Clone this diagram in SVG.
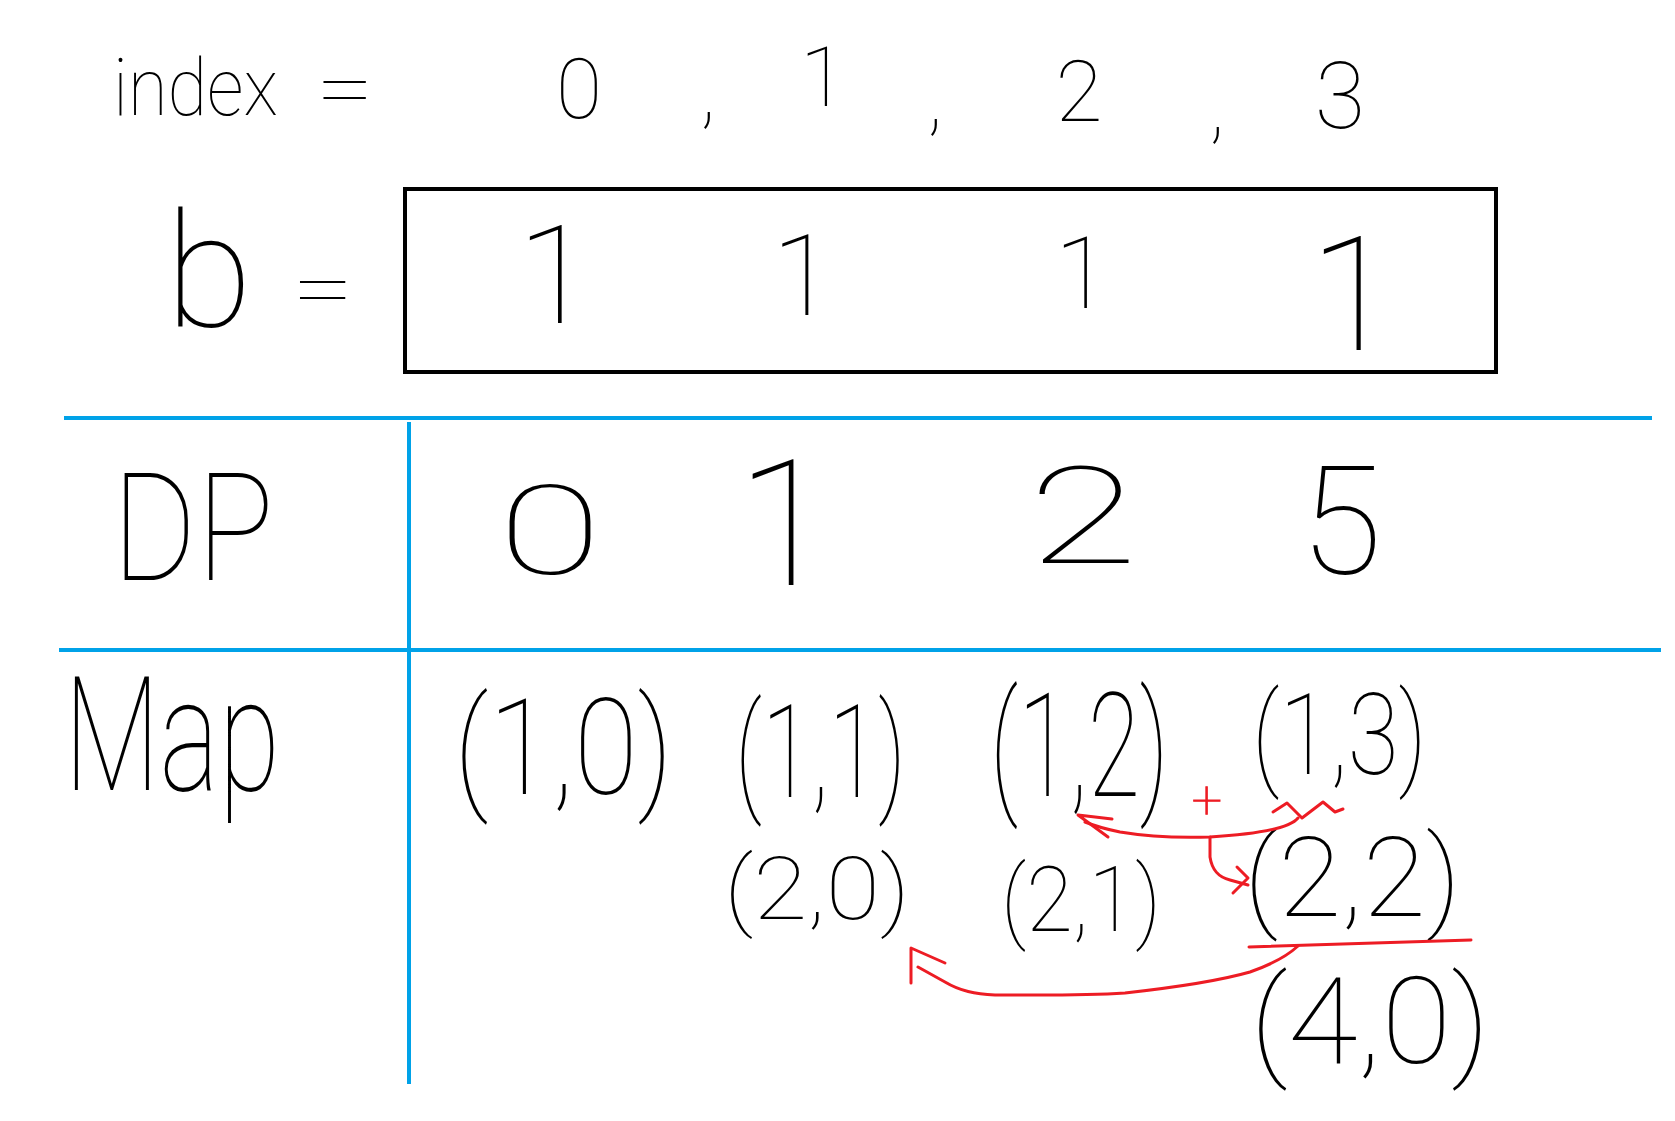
<svg xmlns="http://www.w3.org/2000/svg" width="1675" height="1121" viewBox="0 0 1675 1121">
<style>
.t{font-family:Roboto,"Liberation Sans",sans-serif;font-weight:100;fill:#000}
.m{text-anchor:middle}
.red{fill:none;stroke:#ed1c24;stroke-width:3;stroke-linecap:round;stroke-linejoin:round}
.blue{stroke:#00a2e8;stroke-width:4}
</style>
<rect width="1675" height="1121" fill="#fff"/>
<g id="index-row">
<text class="t" x="113" y="115" font-size="80" textLength="165" lengthAdjust="spacingAndGlyphs">index</text>
<text class="t" x="316" y="116" font-size="80" textLength="58" lengthAdjust="spacingAndGlyphs">=</text>
<text class="t m" x="579" y="118" font-size="84">0</text>
<text class="t m" x="708" y="118" font-size="84">,</text>
<text class="t m" x="823" y="106" font-size="84">1</text>
<text class="t m" x="935" y="125" font-size="84">,</text>
<text class="t m" x="1079" y="121" font-size="86">2</text>
<text class="t m" x="1340" y="128" font-size="92">3</text>
<text class="t m" x="1217" y="133" font-size="84">,</text>
</g>
<g id="b-row">
<text class="t" x="165" y="326" font-size="160">b</text>
<text class="t" x="292" y="316" font-size="80" textLength="62" lengthAdjust="spacingAndGlyphs">=</text>
<rect x="405" y="189" width="1091" height="183" fill="none" stroke="#000" stroke-width="4"/>
<text class="t m" x="555" y="323" font-size="138">1</text>
<text class="t m" x="803" y="315" font-size="113">1</text>
<text class="t m" x="1082" y="308" font-size="100">1</text>
<text class="t m" x="1353" y="350" font-size="160">1</text>
</g>
<g id="table-lines">
<line class="blue" x1="64" y1="418" x2="1652" y2="418"/>
<line class="blue" x1="59" y1="650" x2="1661" y2="650"/>
<line class="blue" x1="409" y1="422" x2="409" y2="1084"/>
</g>
<g id="dp-row">
<text class="t" x="112" y="580" font-size="150" textLength="162" lengthAdjust="spacingAndGlyphs">DP</text>
<text class="t m" x="550" y="574" font-size="124" textLength="104" lengthAdjust="spacingAndGlyphs">0</text>
<text class="t m" x="785" y="585" font-size="177">1</text>
<text class="t m" x="1083" y="563" font-size="135" textLength="110" lengthAdjust="spacingAndGlyphs">2</text>
<text class="t m" x="1341" y="574" font-size="150">5</text>
</g>
<g id="map-row">
<text class="t" x="64" y="790" font-size="160" textLength="216" lengthAdjust="spacingAndGlyphs">Map</text>
</g>
<g id="t10"><text class="t" x="454" y="794" font-size="133" textLength="219" lengthAdjust="spacingAndGlyphs">(1,0)</text></g>
<g id="t11"><text class="t" x="735" y="797" font-size="130" textLength="171" lengthAdjust="spacingAndGlyphs">(1,1)</text></g>
<g id="t12"><text class="t" transform="translate(990,796) scale(0.655,1)" font-size="145">(1,2)</text></g>
<g id="t13"><text class="t" transform="translate(1252,774) scale(0.815,1)" font-size="114">(1,3)</text></g>
<g id="t20"><text class="t" x="724" y="919" font-size="88" textLength="186" lengthAdjust="spacingAndGlyphs">(2,0)</text></g>
<g id="t21"><text class="t" x="1001" y="931" font-size="90" textLength="160" lengthAdjust="spacingAndGlyphs">(2,1)</text></g>
<g id="t22"><text class="t" x="1244" y="916" font-size="111" textLength="217" lengthAdjust="spacingAndGlyphs">(2,2)</text></g>
<g id="t40"><text class="t" x="1250" y="1063" font-size="120" textLength="240" lengthAdjust="spacingAndGlyphs">(4,0)</text></g>
<g id="plus"><text x="1207" y="818" font-family="Roboto,'Liberation Sans',sans-serif" font-weight="100" font-size="54" fill="#ed1c24" stroke="#ed1c24" stroke-width="1" text-anchor="middle">+</text></g>
<g id="connectors">
<path class="red" d="M1298,818 C1290,828 1260,834 1210,837 C1180,838 1150,837 1120,832 C1105,829 1095,826 1085,822"/>
<path class="red" d="M1112,819 L1078,815 L1108,837"/>
<path class="red" d="M1273,812 L1287,803 L1302,818 L1323,802 L1335,812 L1343,809"/>
<path class="red" d="M1210,837 L1210,857 C1212,870 1218,877 1230,880 L1248,885"/>
<path class="red" d="M1237,867 L1248,878 L1233,893"/>
<line class="red" x1="1249" y1="947" x2="1471" y2="940"/>
<path class="red" d="M1298,946 C1285,958 1270,965 1250,972 C1215,982 1170,988 1125,993 C1080,996 1030,995 995,995 C975,994 960,991 945,982 L918,967"/>
<path class="red" d="M911,983 L911,948 L945,963"/>
</g>
</svg>
